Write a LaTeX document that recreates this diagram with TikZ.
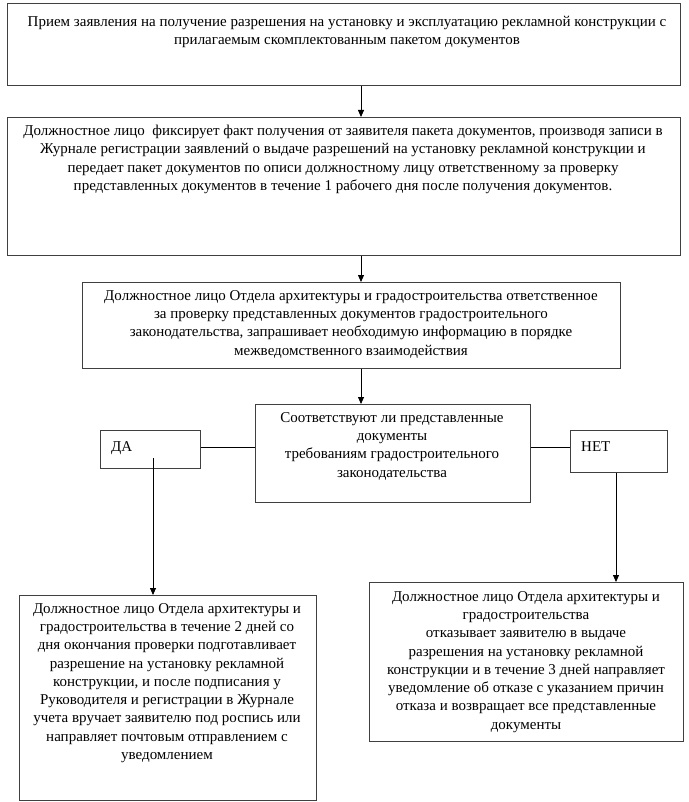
\documentclass[tikz,border=0pt]{standalone}
\usepackage{fontspec}
\setmainfont{Liberation Serif}
\usetikzlibrary{arrows.meta}
\begin{document}
\begin{tikzpicture}[x=1pt,y=-1pt,
  box/.style={draw=black!75, line width=0.8pt, anchor=north west, inner sep=0pt},
  txt/.style={anchor=north, align=center, inner sep=0pt, font=\fontsize{15}{18.3}\selectfont},
  arr/.style={-{Triangle[length=7pt,width=6pt]}, line width=0.8pt, black}]
\useasboundingbox (0,0) rectangle (688,802);
\fill[white] (0,0) rectangle (688,802);
% box 1
\node[box, minimum width=673pt, minimum height=82pt] (b1) at (7,3) {};
\node[txt] (t1) at (347,16) {Прием заявления на получение разрешения на установку и эксплуатацию рекламной конструкции с\\прилагаемым скомплектованным пакетом документов};
% box 2
\node[box, minimum width=673pt, minimum height=138pt] (b2) at (7,117) {};
\node[txt] (t2) at (343,125) {Должностное лицо\ \ фиксирует факт получения от заявителя пакета документов, производя записи в\\Журнале регистрации заявлений о выдаче разрешений на установку рекламной конструкции и\\передает пакет документов по описи должностному лицу ответственному за проверку\\представленных документов в течение 1 рабочего дня после получения документов.};
% box 3
\node[box, minimum width=538pt, minimum height=86pt] (b3) at (82,282) {};
\node[txt] (t3) at (351,290) {Должностное лицо Отдела архитектуры и градостроительства ответственное\\за проверку представленных документов градостроительного\\законодательства, запрашивает необходимую информацию в порядке\\межведомственного взаимодействия};
% decision
\node[box, minimum width=275pt, minimum height=98pt] (b4) at (255,404) {};
\node[txt] (t4) at (392,412) {Соответствуют ли представленные\\документы\\требованиям градостроительного\\законодательства};
% yes / no
\node[box, minimum width=100pt, minimum height=38pt] (yes) at (100,430) {};
\node[txt, anchor=north west] (ty) at (111,441) {ДА};
\node[box, minimum width=97pt, minimum height=42pt] (no) at (570,430) {};
\node[txt, anchor=north west] (tn) at (581,441) {НЕТ};
% box 5
\node[box, minimum width=297pt, minimum height=205pt] (b5) at (19,595) {};
\node[txt] (t5) at (167,603) {Должностное лицо Отдела архитектуры и\\градостроительства в течение 2 дней со\\дня окончания проверки подготавливает\\разрешение на установку рекламной\\конструкции, и после подписания у\\Руководителя и регистрации в Журнале\\учета вручает заявителю под роспись или\\направляет почтовым отправлением с\\уведомлением};
% box 6
\node[box, minimum width=314pt, minimum height=159pt] (b6) at (369,582) {};
\node[txt] (t6) at (526,591) {Должностное лицо Отдела архитектуры и\\градостроительства\\отказывает заявителю в выдаче\\разрешения на установку рекламной\\конструкции и в течение 3 дней направляет\\уведомление об отказе с указанием причин\\отказа и возвращает все представленные\\документы};
% connectors
\draw[arr] (b1.south -| 361,0) -- (b2.north -| 361,0);
\draw[arr] (b2.south -| 361,0) -- (b3.north -| 361,0);
\draw[arr] (b3.south -| 361,0) -- (b4.north -| 361,0);
\draw[line width=0.8pt] (yes.east |- 0,447) -- (b4.west |- 0,447);
\draw[line width=0.8pt] (b4.east |- 0,447) -- (no.west |- 0,447);
\coordinate (ys) at (153,458);
\draw[arr] (ys) -- (b5.north -| ys);
\draw[arr] (no.south -| 616,0) -- (b6.north -| 616,0);
\end{tikzpicture}
\end{document}
